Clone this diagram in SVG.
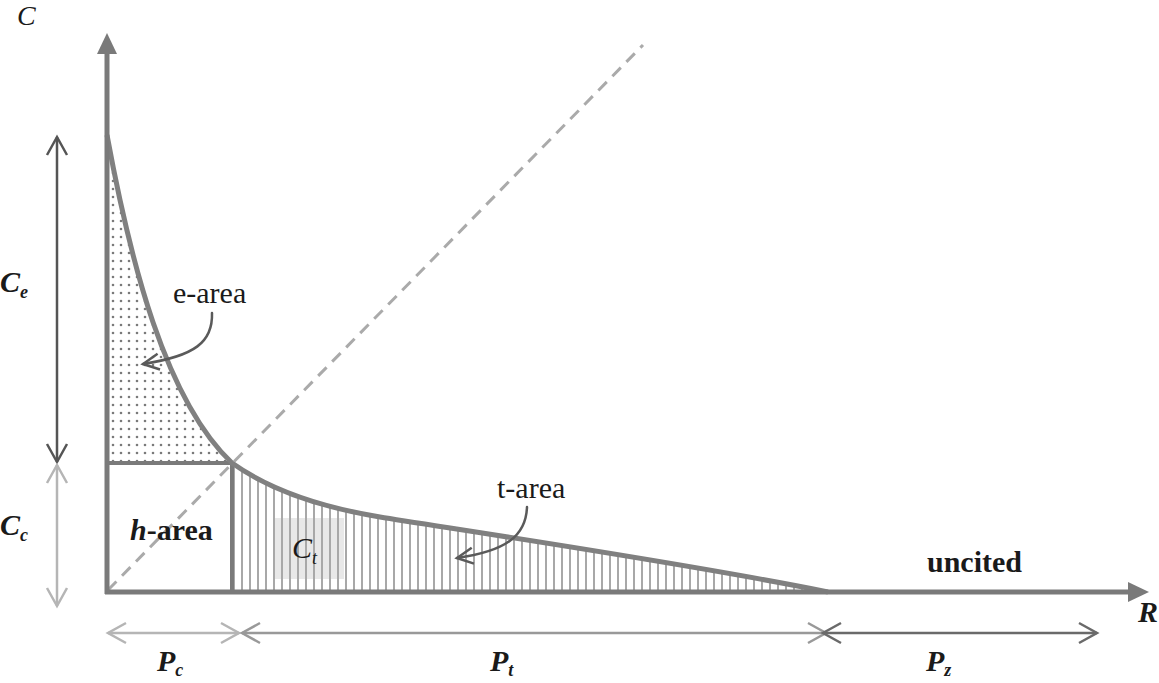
<svg xmlns="http://www.w3.org/2000/svg" width="1159" height="683" viewBox="0 0 1159 683">
<style>
.serif{font-family:"Liberation Serif","Times New Roman",serif;fill:#1a1a1a}
.b{font-weight:bold}
.i{font-style:italic}
.axis{stroke:#7a7a7a;stroke-width:5;fill:none}
.curve{stroke:#808080;stroke-width:5;fill:none;stroke-linejoin:round}
.box{stroke:#7a7a7a;stroke-width:4;fill:none}
.dim{stroke-width:2.5;fill:none}
.ann{stroke:#5a5a5a;stroke-width:2.5;fill:none;stroke-linecap:round}
</style>
<defs>
<marker id="chDark" markerUnits="userSpaceOnUse" markerWidth="40" markerHeight="40" viewBox="-20 -20 40 40" refX="0" refY="0" orient="auto-start-reverse" overflow="visible"><path d="M-18,-10 L0,0 L-18,10" fill="none" stroke="#555" stroke-width="2.5"/></marker>
<marker id="chLight" markerUnits="userSpaceOnUse" markerWidth="40" markerHeight="40" viewBox="-20 -20 40 40" refX="0" refY="0" orient="auto-start-reverse" overflow="visible"><path d="M-18,-10 L0,0 L-18,10" fill="none" stroke="#b5b5b5" stroke-width="2.5"/></marker>
<marker id="chMid" markerUnits="userSpaceOnUse" markerWidth="40" markerHeight="40" viewBox="-20 -20 40 40" refX="0" refY="0" orient="auto-start-reverse" overflow="visible"><path d="M-18,-10 L0,0 L-18,10" fill="none" stroke="#999" stroke-width="2.5"/></marker>
<marker id="chPz" markerUnits="userSpaceOnUse" markerWidth="40" markerHeight="40" viewBox="-20 -20 40 40" refX="0" refY="0" orient="auto-start-reverse" overflow="visible"><path d="M-18,-10 L0,0 L-18,10" fill="none" stroke="#6a6a6a" stroke-width="2.5"/></marker>
<marker id="chAnn" markerUnits="userSpaceOnUse" markerWidth="40" markerHeight="40" viewBox="-20 -20 40 40" refX="0" refY="0" orient="auto" overflow="visible"><path d="M-16,-8 L0,0 L-16,8" fill="none" stroke="#5a5a5a" stroke-width="2.5"/></marker>
<pattern id="dots" patternUnits="userSpaceOnUse" x="110" y="138" width="8" height="8"><circle cx="3" cy="3" r="1.3" fill="#7a7a7a"/></pattern>
<pattern id="hatch" patternUnits="userSpaceOnUse" x="233" y="0" width="8" height="8"><rect x="0" y="0" width="2" height="8" fill="#a8a8a8"/></pattern>
<clipPath id="eClip"><path d="M107,135 C130,260 165,400 232,463 L107,463 Z"/></clipPath>
<clipPath id="tClip"><path d="M232,463 C270,490 320,507 380,517 C440,527 680,562 828,592 L232,592 Z"/></clipPath>
</defs>
<rect width="1159" height="683" fill="#fff"/>

<g id="areas">
<rect x="107" y="130" width="126" height="335" fill="url(#dots)" clip-path="url(#eClip)"/>
<rect x="274" y="518" width="70" height="61" fill="#e8e8e8"/>
<rect x="233" y="455" width="600" height="140" fill="url(#hatch)" clip-path="url(#tClip)"/>
</g>

<g id="guide">
<line x1="108" y1="590" x2="643" y2="45" stroke="#aaa" stroke-width="3" stroke-dasharray="12 8"/>
</g>

<g id="h-box">
<line class="box" x1="107" y1="463" x2="233" y2="463"/>
<line class="box" x1="232" y1="463" x2="232" y2="592"/>
</g>

<g id="curve">
<path class="curve" d="M107,135 C130,260 165,400 232,463 C270,490 320,507 380,517 C440,527 680,562 828,592"/>
</g>

<g id="axes">
<line class="axis" x1="107" y1="594" x2="107" y2="50"/>
<polygon points="107,33 97,54 117,54" fill="#7a7a7a"/>
<line class="axis" x1="105" y1="592" x2="1130" y2="592"/>
<polygon points="1149,592 1128,582 1128,602" fill="#7a7a7a"/>
</g>

<g id="connectors">
<line class="dim" stroke="#555" x1="57" y1="137" x2="57" y2="462" marker-start="url(#chDark)" marker-end="url(#chDark)"/>
<line class="dim" stroke="#b5b5b5" x1="57" y1="465" x2="57" y2="606" marker-start="url(#chLight)" marker-end="url(#chLight)"/>
<line class="dim" stroke="#b5b5b5" x1="108" y1="633" x2="239" y2="633" marker-start="url(#chLight)" marker-end="url(#chLight)"/>
<line class="dim" stroke="#999" x1="242" y1="633" x2="826" y2="633" marker-start="url(#chMid)" marker-end="url(#chMid)"/>
<line class="dim" stroke="#6a6a6a" x1="823" y1="633" x2="1097" y2="633" marker-start="url(#chPz)" marker-end="url(#chPz)"/>
<path class="ann" d="M212,313 C213,342 195,356 143,364" marker-end="url(#chAnn)"/>
<path class="ann" d="M527,507 C526,536 506,551 457,558" marker-end="url(#chAnn)"/>
</g>

<g id="labels" font-size="30">
<text class="serif i" x="17" y="25" font-size="28">C</text>
<text class="serif b i" x="0" y="292">C<tspan font-size="18" dy="6">e</tspan></text>
<text class="serif b i" x="0" y="535">C<tspan font-size="18" dy="6">c</tspan></text>
<text class="serif b" x="130" y="540"><tspan class="i">h</tspan>-area</text>
<text class="serif" x="173" y="303">e-area</text>
<text class="serif" x="497" y="498">t-area</text>
<text class="serif b" x="927" y="572">uncited</text>
<text class="serif i" x="292" y="558">C<tspan font-size="18" dy="6">t</tspan></text>
<text class="serif b i" x="157" y="671">P<tspan font-size="18" dy="5">c</tspan></text>
<text class="serif b i" x="490" y="671">P<tspan font-size="18" dy="5">t</tspan></text>
<text class="serif b i" x="926" y="671">P<tspan font-size="18" dy="5">z</tspan></text>
<text class="serif b i" x="1138" y="622">R</text>
</g>
</svg>
